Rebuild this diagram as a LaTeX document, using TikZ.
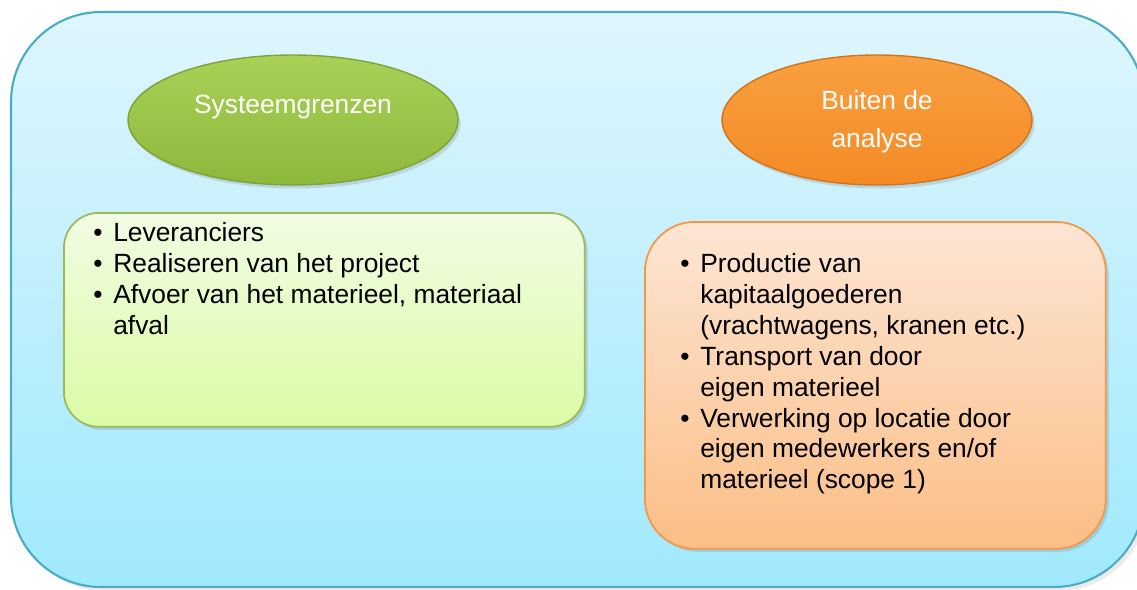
\documentclass[tikz,border=0pt]{standalone}
\usepackage{fontspec}
\setmainfont{Liberation Sans}
\usetikzlibrary{shapes.geometric,shadows}

\definecolor{outertop}{HTML}{DFF6FD}
\definecolor{outerbot}{HTML}{A0E9FE}
\definecolor{outerline}{HTML}{4BACC6}
\definecolor{greentop}{HTML}{A9D157}
\definecolor{greenbot}{HTML}{8DB83C}
\definecolor{greenline}{HTML}{7FA23A}
\definecolor{lgreentop}{HTML}{F1FCE3}
\definecolor{lgreenbot}{HTML}{DBFBA6}
\definecolor{lgreenline}{HTML}{9BBB59}
\definecolor{orangetop}{HTML}{F9A040}
\definecolor{orangebot}{HTML}{F48A25}
\definecolor{orangeline}{HTML}{D2741E}
\definecolor{lorangetop}{HTML}{FDE6D4}
\definecolor{lorangebot}{HTML}{FBBE86}
\definecolor{lorangeline}{HTML}{F79646}

\newlength{\bulw}
\setlength{\bulw}{0.4cm}
\newcommand{\bul}[1]{\makebox[\bulw][l]{\textbullet}#1}
\newcommand{\cont}[1]{\hspace*{\bulw}#1}

\begin{document}
\begin{tikzpicture}[x=0.02cm, y=-0.02cm,
    body/.style={font=\fontsize{15pt}{17.6pt}\selectfont, inner sep=0pt, anchor=north west, align=left},
    head/.style={font=\fontsize{15pt}{21.6pt}\selectfont, text=white, inner sep=0pt, align=center},
    blob/.style={ellipse, inner sep=0pt, minimum width=#1, minimum height=2.6cm, line width=0.8pt,
      drop shadow={opacity=.25, shadow xshift=.5mm, shadow yshift=-.7mm}},
    panel/.style={rectangle, inner sep=0pt, anchor=north west, line width=1pt,
      drop shadow={opacity=.25, shadow xshift=.6mm, shadow yshift=-.6mm}}]
  \useasboundingbox (0,0) rectangle (1137,589) ;

  % achtergrond
  \draw [outerline, line width=1.2pt, rounded corners=1.8cm, top color=outertop, bottom color=outerbot,
    drop shadow={opacity=.15, shadow xshift=.8mm, shadow yshift=-.8mm}] (11,12) rectangle (1144,587) ;

  % linker kolom
  \node [blob=6.6cm, draw=greenline, top color=greentop, bottom color=greenbot] (grens) at (293,120) {} ;
  \node [head] (grenstxt) at ([yshift=0.26cm]grens.center) {Systeemgrenzen} ;
  \node [panel, draw=lgreenline, top color=lgreentop, bottom color=lgreenbot, rounded corners=0.7cm,
    minimum width=10.42cm, minimum height=4.28cm] (binnen) at (63,212) {} ;
  \node [body] (binnentxt) at ([xshift=0.6cm, yshift=-0.2cm]binnen.north west)
    {\bul{Leveranciers}\\
     \bul{Realiseren van het project}\\
     \bul{Afvoer van het materieel, materiaal}\\
     \cont{afval}} ;

  % rechter kolom
  \node [blob=6.2cm, draw=orangeline, top color=orangetop, bottom color=orangebot] (buiten) at (877,120) {} ;
  \node [head] (buitentxt) at ([yshift=-0.04cm]buiten.center) {Buiten de\\analyse} ;
  \node [panel, draw=lorangeline, top color=lorangetop, bottom color=lorangebot, rounded corners=1cm,
    minimum width=9.22cm, minimum height=6.54cm] (extern) at (644,221) {} ;
  \node [body] (externtxt) at ([xshift=0.72cm, yshift=-0.64cm]extern.north west)
    {\bul{Productie van}\\
     \cont{kapitaalgoederen}\\
     \cont{(vrachtwagens, kranen etc.)}\\
     \bul{Transport van door}\\
     \cont{eigen materieel}\\
     \bul{Verwerking op locatie door}\\
     \cont{eigen medewerkers en/of}\\
     \cont{materieel (scope 1)}} ;
\end{tikzpicture}
\end{document}
